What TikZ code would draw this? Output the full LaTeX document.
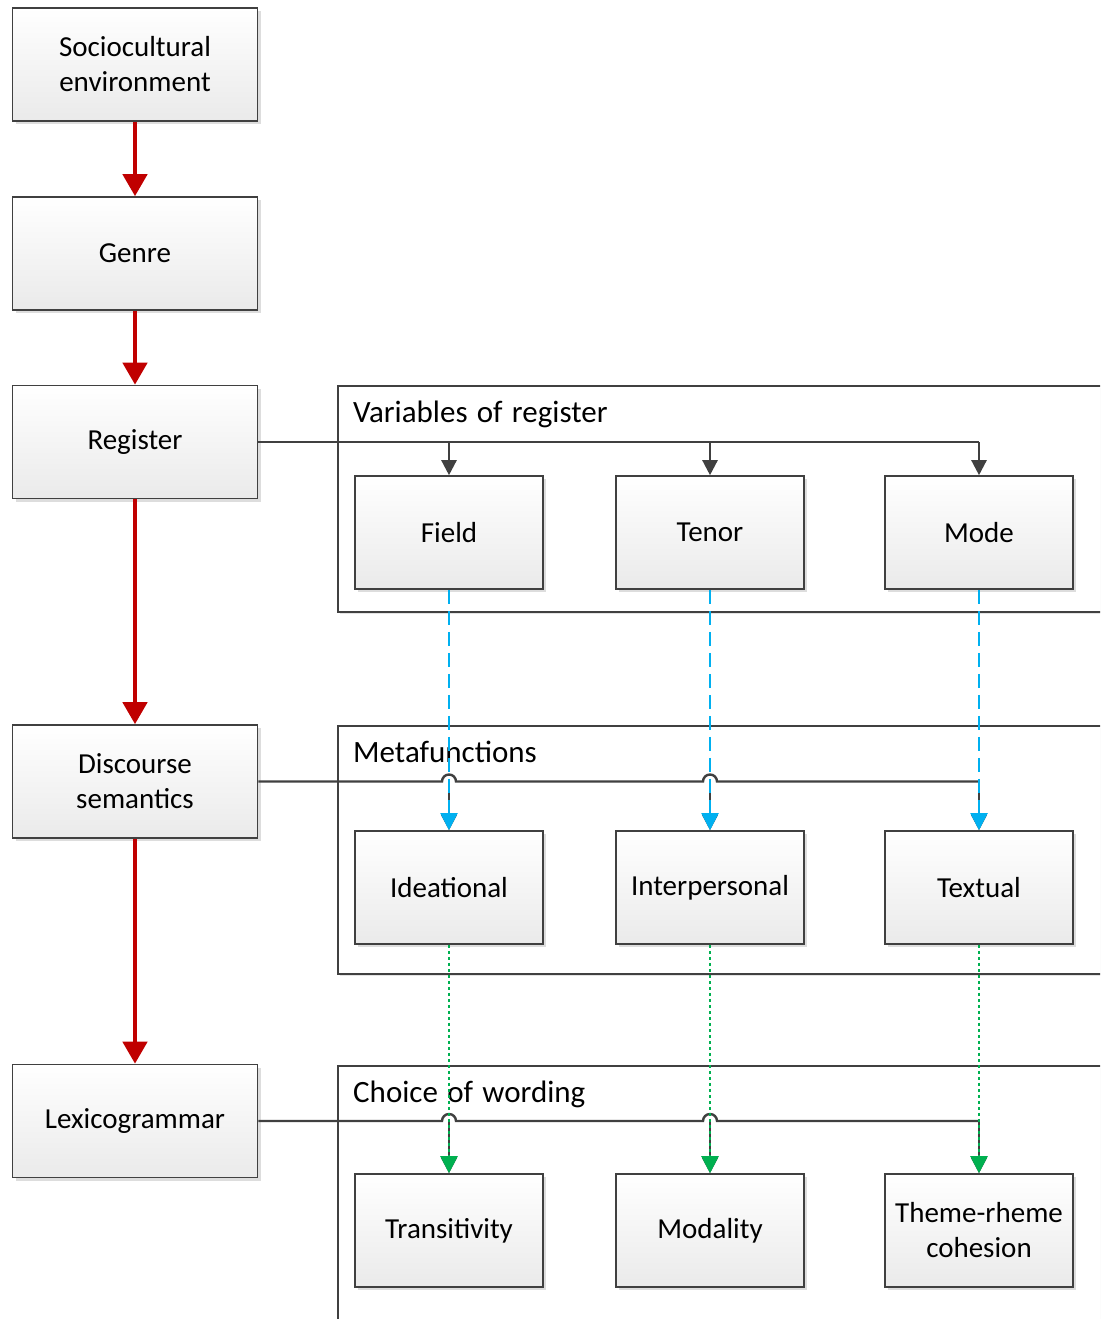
\documentclass[tikz,border=0pt]{standalone}
\usepackage{fontspec}
\setmainfont{Carlito}
\usetikzlibrary{arrows.meta,shadows}

\definecolor{edge}{HTML}{404040}
\definecolor{boxbot}{HTML}{EAEAEA}
\definecolor{flowred}{HTML}{C00000}
\definecolor{regblue}{HTML}{00B0F0}
\definecolor{wordgreen}{HTML}{00B050}

% slightly larger type with wider word gaps for the frame titles
\newcommand{\titlefont}{\fontsize{31}{35}\selectfont\spaceskip=0.3em\relax}

\tikzset{
  x=1pt, y=-1pt,
  stage/.style={draw=edge, line width=1.6pt, top color=white, bottom color=boxbot,
    minimum width=245pt, minimum height=113pt, inner sep=0pt, align=center,
    font=\fontsize{29}{35}\selectfont,
    drop shadow={shadow xshift=3pt, shadow yshift=-3pt, opacity=0.22, fill=black!60}},
  item/.style={stage, minimum width=188pt},
  group/.style={draw=edge, line width=1.6pt, fill=white, anchor=north west,
    minimum width=800pt, inner sep=0pt,
    drop shadow={shadow xshift=2pt, shadow yshift=-2pt, opacity=0.18, fill=black!60}},
  grouptitle/.style={anchor=base west, inner sep=0pt, font=\titlefont},
  flow/.style={draw=flowred, line width=4.5pt,
    -{Triangle[width=24pt,length=22pt]}, shorten >=0pt},
  link/.style={draw=edge, line width=2.4pt},
  linkarrow/.style={link, -{Triangle[width=15pt,length=15pt]}},
  realise/.style={draw=regblue, line width=2pt, dash pattern=on 14pt off 7pt,
    -{Triangle[width=17pt,length=17pt]}},
  encode/.style={draw=wordgreen, line width=2.2pt, dash pattern=on 3pt off 3pt,
    -{Triangle[width=17pt,length=17pt]}},
}

\begin{document}
\begin{tikzpicture}
\clip (0,0) rectangle (1100,1319);

% grouping frames on the right
\node[group, minimum height=226pt] (gvar) at (337,385) {};
\node[group, minimum height=248pt] (gmeta) at (337,725) {};
\node[group, minimum height=300pt] (gword) at (337,1065) {};
\node[grouptitle] (tvar) at (353,422) {Variables of register};
\node[grouptitle] (tmeta) at (353,762) {Metafunctions};
\node[grouptitle] (tword) at (353,1102) {Choice of wording};

% strata on the left
\node[stage] (socio) at (135,64.5) {Sociocultural\\environment};
\node[stage] (genre) at (135,253.5) {Genre};
\node[stage] (reg) at (135,442) {Register};
\node[stage] (disc) at (135,781.5) {Discourse\\semantics};
\node[stage] (lexi) at (135,1121) {Lexicogrammar};

% register variables
\node[item] (field) at (449,532.5) {Field};
\node[item] (tenor) at (710,532.5) {Tenor};
\node[item] (mode) at (979,532.5) {Mode};
% metafunctions
\node[item] (idea) at (449,887.5) {Ideational};
\node[item] (inter) at (710,887.5) {Interpersonal};
\node[item] (text) at (979,887.5) {Textual};
% wording
\node[item] (trans) at (449,1230.5) {Transitivity};
\node[item] (modal) at (710,1230.5) {Modality};
\node[item] (theme) at (979,1230.5) {Theme-rheme\\cohesion};

% realisation chain down the strata
\draw[flow] (socio.south) -- (genre.north);
\draw[flow] (genre.south) -- (reg.north);
\draw[flow] (reg.south) -- (disc.north);
\draw[flow] (disc.south) -- (lexi.north);

% register -> field, tenor, mode
\draw[link] (reg.east) -- (mode.north |- reg.east);
\draw[linkarrow] (field.north |- reg.east) -- (field.north);
\draw[linkarrow] (tenor.north |- reg.east) -- (tenor.north);
\draw[linkarrow] (mode.north |- reg.east) -- (mode.north);

% discourse semantics -> metafunctions (hopping over the crossings)
\draw[link] (disc.east)
  -- ([xshift=-7pt]idea.north |- disc.east) arc[start angle=180, end angle=0, radius=7pt]
  -- ([xshift=-7pt]inter.north |- disc.east) arc[start angle=180, end angle=0, radius=7pt]
  -- (text.north |- disc.east);
\draw[linkarrow] (idea.north |- disc.east) -- (idea.north);
\draw[linkarrow] (inter.north |- disc.east) -- (inter.north);
\draw[linkarrow] (text.north |- disc.east) -- (text.north);

% lexicogrammar -> wording choices
\draw[link] (lexi.east)
  -- ([xshift=-7pt]trans.north |- lexi.east) arc[start angle=180, end angle=0, radius=7pt]
  -- ([xshift=-7pt]modal.north |- lexi.east) arc[start angle=180, end angle=0, radius=7pt]
  -- (theme.north |- lexi.east);
\draw[linkarrow] (trans.north |- lexi.east) -- (trans.north);
\draw[linkarrow] (modal.north |- lexi.east) -- (modal.north);
\draw[linkarrow] (theme.north |- lexi.east) -- (theme.north);

% register variables realised by metafunctions
\draw[realise] (field.south) -- (idea.north);
\draw[realise] (tenor.south) -- (inter.north);
\draw[realise] (mode.south) -- (text.north);

% metafunctions encoded in wording
\draw[encode] (idea.south) -- (trans.north);
\draw[encode] (inter.south) -- (modal.north);
\draw[encode] (text.south) -- (theme.north);
\end{tikzpicture}
\end{document}
